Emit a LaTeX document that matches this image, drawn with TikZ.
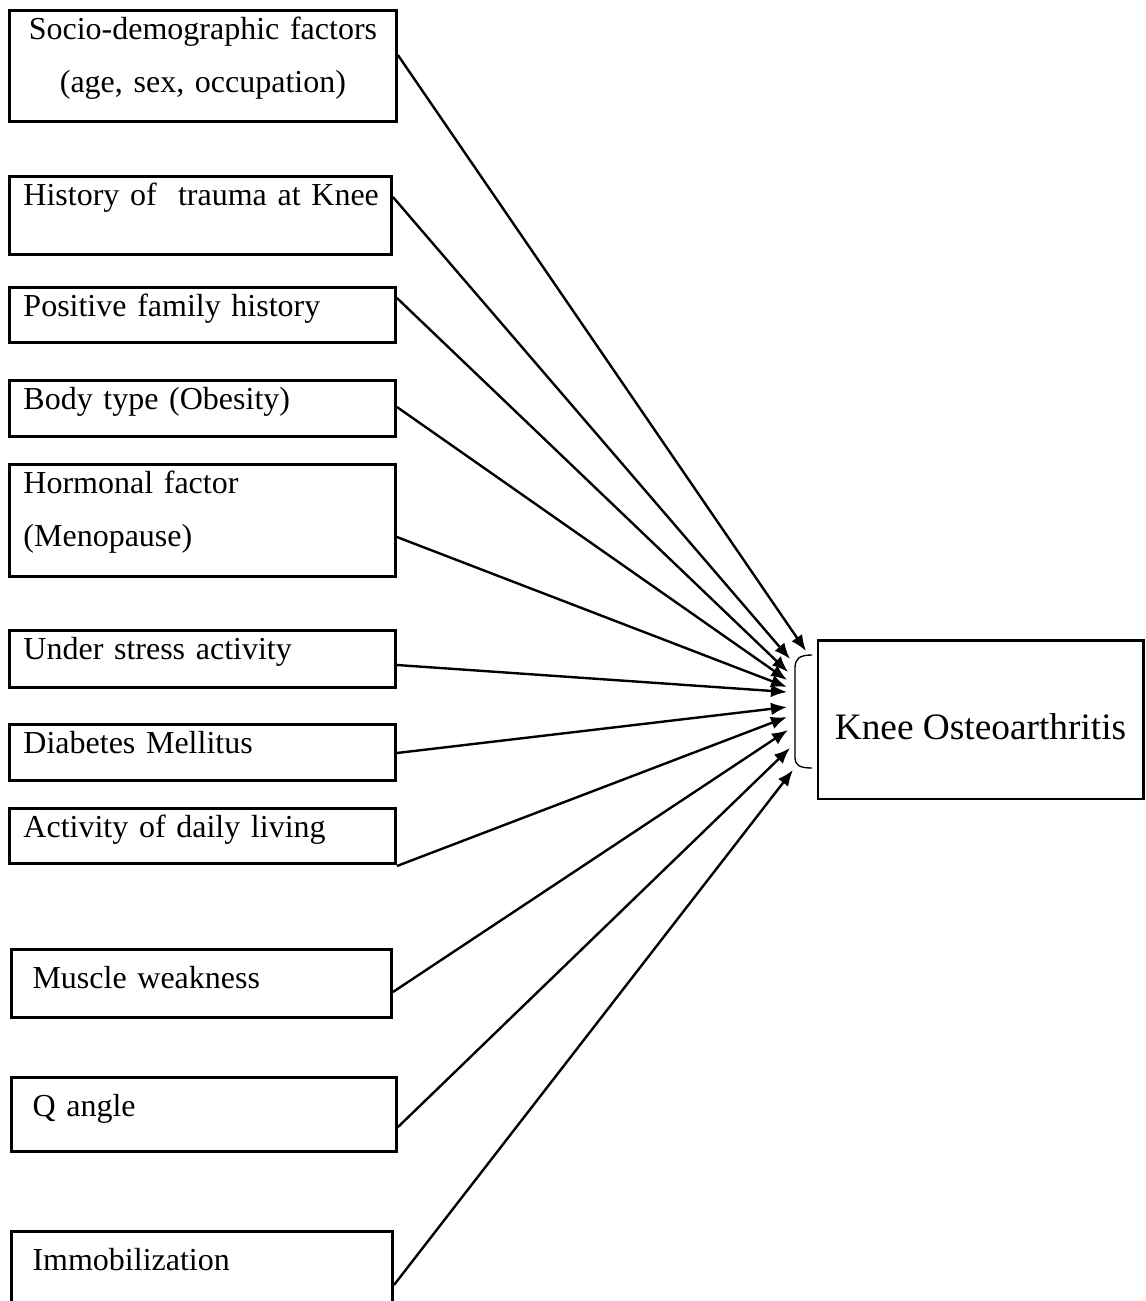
\documentclass[tikz,border=0pt]{standalone}
\usepackage{fontspec}
\setmainfont{Liberation Serif}
\usetikzlibrary{arrows.meta, calc}

\begin{document}
\begin{tikzpicture}[x=0.375pt,y=-0.375pt,->,>={Latex[length=6pt,width=4.8pt]},line width=0.9pt]

	\tikzset{factor/.style={rectangle, draw, -, line width=1.1pt, anchor=north west,
			inner ysep=0pt, inner xsep=5.25pt, text width=134.25pt,
			text height=10.9pt, font=\fontsize{12}{19.9}\selectfont}}
	\tikzset{factor low/.style={factor, inner xsep=7.9pt, text height=14.6pt}}
	\tikzset{outcome/.style={rectangle, draw, -, line width=1.1pt, inner sep=0pt,
			minimum width=121.9pt, minimum height=59.6pt,
			text height=14.8pt, text depth=0pt, font=\fontsize{14}{17}\selectfont}}

	\path[use as bounding box] (0,0) rectangle (1145,1301);
	\clip (0,0) rectangle (1145,1301);

	% risk factors
	\node[factor, align=center, text width=134.6pt, text depth=30.7pt] (socio) at (8,9)
		{Socio-demographic factors\\(age, sex, occupation)};
	\node[factor, text width=132.75pt, text depth=18.35pt] (hist) at (8,175) {\mbox{History of\ \ trauma at Knee}};
	\node[factor, text depth=9.7pt] (family) at (8,286) {Positive family history};
	\node[factor, text depth=10.1pt] (body) at (8,379) {Body type (Obesity)};
	\node[factor, text depth=31.1pt] (hormone) at (8,463) {Hormonal factor\\(Menopause)};
	\node[factor, text depth=10.5pt] (stress) at (8,629) {Under stress activity};
	\node[factor, text depth=10.1pt] (diabetes) at (8,723) {Diabetes Mellitus};
	\node[factor, text depth=9.7pt] (daily) at (8,807) {Activity of daily living};
	\node[factor low, text width=126.7pt, text depth=10.9pt] (muscle) at (10,948) {Muscle weakness};
	\node[factor low, text width=128.6pt, text depth=13.15pt] (qangle) at (10,1076) {Q angle};
	\node[factor low, text width=127.1pt, text depth=15pt] (immob) at (10,1230) {Immobilization};

	% outcome
	\node[outcome] (knee) at (980.5,719.5) {Knee Osteoarthritis};
	\draw[-, line width=0.5pt] (812,655) .. controls (799,655) and (795,659) .. (795,668)
		-- (795,757) .. controls (795,765) and (799,768) .. (812,768);

	\coordinate (in1) at (806,651);
	\coordinate (in2) at (790,659);
	\coordinate (in3) at (788,672);
	\coordinate (in4) at (787,680);
	\coordinate (in5) at (787,687);
	\coordinate (in6) at (787,692);
	\coordinate (in7) at (787,707);
	\coordinate (in8) at (787,717);
	\coordinate (in9) at (788,730);
	\coordinate (in10) at (790,748);
	\coordinate (in11) at (793,770);

	\foreach \src/\dy/\dst in {socio/46/in1, hist/22/in2, family/12/in3, body/28/in4,
		hormone/74/in5, stress/36/in6, diabetes/30/in7, daily/59/in8,
		muscle/44/in9, qangle/51/in10, immob/55/in11}
		\draw ($(\src.north east)+(0,\dy)$) -- (\dst);
\end{tikzpicture}
\end{document}
